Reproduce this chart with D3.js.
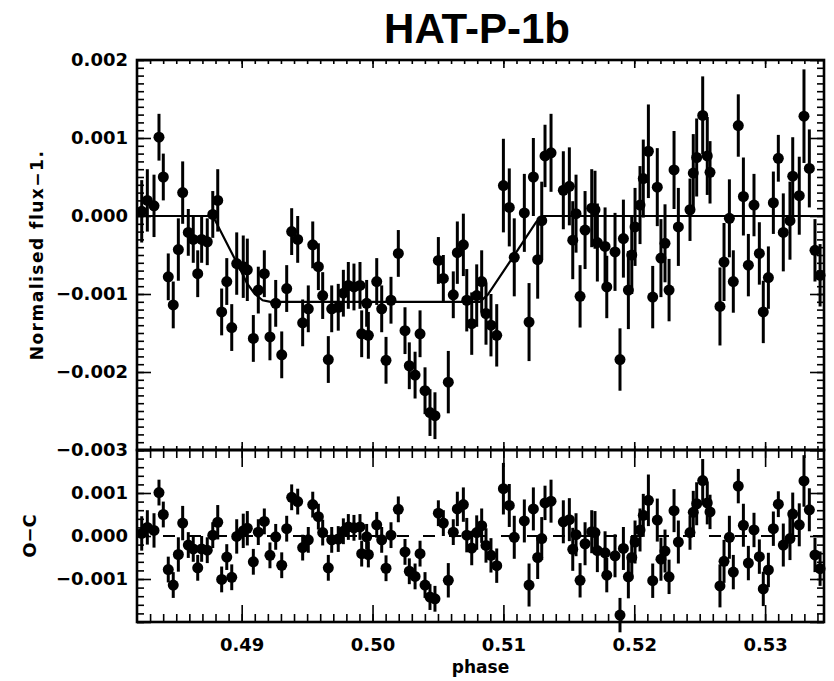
<!DOCTYPE html>
<html lang="en">
<head>
<meta charset="UTF-8">
<title>HAT-P-1b</title>
<script src="https://d3js.org/d3.v7.min.js"></script>
<style>
    body { margin: 0; background: #fff; }
    svg { display: block; font-family: "DejaVu Sans", sans-serif; font-weight: bold; }
    .tick text { font-family: "DejaVu Sans", sans-serif; font-weight: bold; font-size: 18px; fill: #000; }
    .tick line { stroke: #000; stroke-width: 1.6; }
    .frame { fill: none; stroke: #000; stroke-width: 2.6; }
</style>
</head>
<body>
<div id="chart"></div>
<script>
// orbital phase of each point
const phase = [
    0.48236,0.48279,0.48330,0.48368,0.48401,0.48439,0.48477,0.48516,0.48549,0.48592,
    0.48630,0.48664,0.48694,0.48737,0.48779,0.48817,0.48847,0.48886,0.48924,0.48962,
    0.49012,0.49043,0.49089,0.49127,0.49173,0.49216,0.49260,0.49306,0.49344,0.49382,
    0.49428,0.49466,0.49509,0.49543,0.49586,0.49619,0.49662,0.49688,0.49738,0.49777,
    0.49815,0.49858,0.49904,0.49917,0.49955,0.49968,0.50032,0.50070,0.50103,0.50141,
    0.50197,0.50248,0.50281,0.50325,0.50363,0.50401,0.50439,0.50477,0.50503,0.50541,
    0.50579,0.50617,0.50648,0.50694,0.50720,0.50758,0.50796,0.50834,0.50867,0.50905,
    0.50949,0.51000,0.51045,0.51083,0.51160,0.51196,0.51229,0.51262,0.51293,0.51318,
    0.51364,0.51458,0.51504,0.51530,0.51555,0.51586,0.51624,0.51675,0.51700,0.51718,
    0.51777,0.51790,0.51853,0.51891,0.51917,0.51955,0.51981,0.52006,0.52044,0.52069,
    0.52108,0.52141,0.52176,0.52204,0.52235,0.52266,0.52304,0.52337,0.52426,0.52451,
    0.52477,0.52523,0.52558,0.52579,0.52655,0.52686,0.52727,0.52757,0.52795,0.52834,
    0.52872,0.52915,0.52956,0.52986,0.53025,0.53063,0.53101,0.53139,0.53190,0.53211,
    0.53261,0.53297,0.53338,0.53381,0.53420
];

// normalised flux - 1
const flux = [
    0.00006,0.00020,0.00013,0.00101,0.00050,-0.00078,-0.00114,-0.00043,0.00030,-0.00021,
    -0.00030,-0.00074,-0.00030,-0.00033,0.00002,0.00020,-0.00123,-0.00084,-0.00143,-0.00061,
    -0.00065,-0.00069,-0.00157,-0.00095,-0.00074,-0.00155,-0.00112,-0.00178,-0.00093,-0.00020,
    -0.00030,-0.00137,-0.00119,-0.00037,-0.00065,-0.00102,-0.00184,-0.00119,-0.00117,-0.00099,
    -0.00089,-0.00091,-0.00089,-0.00151,-0.00112,-0.00153,-0.00084,-0.00119,-0.00185,-0.00108,
    -0.00048,-0.00147,-0.00192,-0.00204,-0.00151,-0.00224,-0.00252,-0.00256,-0.00057,-0.00080,
    -0.00213,-0.00101,-0.00047,-0.00037,-0.00108,-0.00138,-0.00102,-0.00084,-0.00125,-0.00140,
    -0.00153,0.00039,0.00011,-0.00053,0.00004,-0.00136,0.00050,-0.00056,-0.00006,0.00077,
    0.00081,0.00033,0.00038,-0.00031,0.00003,-0.00103,-0.00018,0.00010,0.00008,-0.00034,
    -0.00039,-0.00091,-0.00046,-0.00184,-0.00029,-0.00095,-0.00050,-0.00014,0.00014,0.00048,
    0.00083,-0.00104,0.00037,-0.00054,-0.00035,-0.00095,0.00059,-0.00014,0.00008,0.00055,
    0.00075,0.00129,0.00077,0.00056,-0.00116,-0.00059,-0.00003,-0.00084,0.00116,0.00025,
    -0.00063,0.00014,-0.00048,-0.00123,-0.00079,0.00017,0.00074,-0.00021,-0.00006,0.00051,
    0.00026,0.00128,0.00061,-0.00044,-0.00076
];

// 1-sigma errors
const fluxErr = [
    0.0004,0.0004,0.0004,0.0003,0.0003,0.0003,0.0003,0.0004,0.0004,0.0003,
    0.0003,0.0003,0.0003,0.0003,0.0003,0.0004,0.0003,0.0003,0.0003,0.0004,
    0.0004,0.0004,0.0003,0.0003,0.0003,0.0003,0.0003,0.0003,0.0003,0.0003,
    0.0003,0.0003,0.0003,0.0003,0.0003,0.0003,0.0003,0.0003,0.0003,0.0003,
    0.0003,0.0003,0.0003,0.0003,0.0003,0.0003,0.0003,0.0003,0.0003,0.0003,
    0.0003,0.0003,0.0003,0.0003,0.0003,0.0003,0.0003,0.0003,0.0003,0.0003,
    0.0004,0.0003,0.0004,0.0004,0.0004,0.0004,0.0004,0.0004,0.0004,0.0004,
    0.0004,0.0006,0.0005,0.0005,0.0005,0.0005,0.0005,0.0005,0.0005,0.0004,
    0.0005,0.0005,0.0005,0.0005,0.0005,0.0004,0.0005,0.0005,0.0005,0.0005,
    0.0005,0.0004,0.0005,0.0004,0.0005,0.0005,0.0005,0.0005,0.0005,0.0005,
    0.0006,0.0004,0.0005,0.0005,0.0005,0.0004,0.0005,0.0005,0.0004,0.0005,
    0.0005,0.0005,0.0005,0.0004,0.0005,0.0005,0.0005,0.0004,0.0004,0.0005,
    0.0004,0.0004,0.0004,0.0004,0.0004,0.0004,0.0003,0.0005,0.0005,0.0005,
    0.0005,0.0006,0.0005,0.0004,0.0004
];

// observed minus computed
const residual = [
    0.00006,0.00020,0.00013,0.00101,0.00050,-0.00078,-0.00114,-0.00043,0.00030,-0.00021,
    -0.00030,-0.00074,-0.00030,-0.00033,0.00002,0.00032,-0.00101,-0.00049,-0.00096,-0.00001,
    0.00012,0.00018,-0.00060,0.00009,0.00034,-0.00045,-0.00002,-0.00068,0.00017,0.00090,
    0.00080,-0.00027,-0.00009,0.00073,0.00045,0.00008,-0.00074,-0.00009,-0.00007,0.00011,
    0.00021,0.00019,0.00021,-0.00041,-0.00002,-0.00043,0.00026,-0.00009,-0.00075,0.00002,
    0.00062,-0.00037,-0.00082,-0.00094,-0.00041,-0.00114,-0.00142,-0.00146,0.00053,0.00030,
    -0.00103,0.00009,0.00063,0.00073,0.00002,-0.00028,0.00008,0.00024,-0.00022,-0.00045,
    -0.00069,0.00110,0.00071,-0.00003,0.00035,-0.00114,0.00063,-0.00050,-0.00006,0.00077,
    0.00081,0.00033,0.00038,-0.00031,0.00003,-0.00103,-0.00018,0.00010,0.00008,-0.00034,
    -0.00039,-0.00091,-0.00046,-0.00184,-0.00029,-0.00095,-0.00050,-0.00014,0.00014,0.00048,
    0.00083,-0.00104,0.00037,-0.00054,-0.00035,-0.00095,0.00059,-0.00014,0.00008,0.00055,
    0.00075,0.00129,0.00077,0.00056,-0.00116,-0.00059,-0.00003,-0.00084,0.00116,0.00025,
    -0.00063,0.00014,-0.00048,-0.00123,-0.00079,0.00017,0.00074,-0.00021,-0.00006,0.00051,
    0.00026,0.00128,0.00061,-0.00044,-0.00076
];

// transit model curve
const modelPhase = [0.4820,0.4878,0.4899,0.4904,0.4910,0.4916,0.4922,0.5082,0.5088,0.5110,0.5125,0.5130,0.5345];
const modelFlux  = [0,0,-0.00069,-0.00086,-0.00100,-0.00108,-0.00110,-0.00110,-0.00101,-0.00046,-0.00008,0,0];

// axes
const xDomain = [0.482, 0.5345];
const xTicks = [0.49, 0.50, 0.51, 0.52, 0.53];
const yTicksTop = [-0.003, -0.002, -0.001, 0.000, 0.001, 0.002];
const yTicksBottom = [-0.001, 0.000, 0.001];

const width = 834, height = 681;
const left = 137, right = 824;
const top1 = 60, bottom1 = 450, top2 = 450, bottom2 = 622;

const svg = d3.select("#chart").append("svg")
    .attr("width", width)
    .attr("height", height);

const x = d3.scaleLinear().domain(xDomain).range([left, right]);
const yTop = d3.scaleLinear().domain([-0.003, 0.002]).range([bottom1, top1]);
const yBot = d3.scaleLinear().domain([-0.002, 0.002]).range([bottom2, top2]);

const xMinor = d3.range(0.483, 0.5345, 0.001).map(v => +v.toFixed(3));
const fmt = d3.format(".3f");

function addAxis(axis, tx, ty) {
    const g = svg.append("g").attr("transform", `translate(${tx},${ty})`).call(axis);
    g.select(".domain").remove();
    g.attr("font-family", null).attr("font-size", null);
    return g;
}

// IDL style ticks: inward on all four sides
function drawFrame(y, top, bottom, yMajor, yMinor, yLabels, xLen, xLabels) {
    addAxis(d3.axisBottom(x).tickValues(xMinor).tickSize(-xLen[1]).tickFormat(""), 0, bottom);
    addAxis(d3.axisTop(x).tickValues(xMinor).tickSize(-xLen[1]).tickFormat(""), 0, top);
    addAxis(d3.axisBottom(x).tickValues(xTicks).tickSize(-xLen[0]).tickPadding(16)
        .tickFormat(xLabels ? d3.format(".2f") : ""), 0, bottom);
    addAxis(d3.axisTop(x).tickValues(xTicks).tickSize(-xLen[0]).tickFormat(""), 0, top);

    addAxis(d3.axisLeft(y).tickValues(yMinor).tickSize(-7).tickFormat(""), left, 0);
    addAxis(d3.axisRight(y).tickValues(yMinor).tickSize(-7).tickFormat(""), right, 0);
    addAxis(d3.axisLeft(y).tickValues(yMajor).tickSize(-14).tickPadding(9)
        .tickFormat(d => yLabels.includes(d) ? fmt(d) : ""), left, 0);
    addAxis(d3.axisRight(y).tickValues(yMajor).tickSize(-14).tickFormat(""), right, 0);

    svg.append("rect").attr("class", "frame")
        .attr("x", left).attr("y", top)
        .attr("width", right - left).attr("height", bottom - top);
}

const minorTop = d3.range(-30, 21).map(v => v / 10000);
const minorBot = d3.range(-10, 11).map(v => v / 5000);

drawFrame(yTop, top1, bottom1, yTicksTop, minorTop, yTicksTop, [8, 4], false);
drawFrame(yBot, top2, bottom2, [-0.002, -0.001, 0, 0.001, 0.002], minorBot, yTicksBottom, [17, 8], true);

const pts = phase.map((p, i) => ({p: p, f: flux[i], e: fluxErr[i], r: residual[i]}));

// model curve
const line = d3.line().x((d, i) => x(modelPhase[i])).y(d => yTop(d));
svg.append("path")
    .attr("d", line(modelFlux))
    .attr("fill", "none")
    .attr("stroke", "#000")
    .attr("stroke-width", 2.2);

// zero line in O-C panel
svg.append("line")
    .attr("x1", left).attr("x2", right)
    .attr("y1", yBot(0)).attr("y2", yBot(0))
    .attr("stroke", "#000")
    .attr("stroke-width", 2)
    .attr("stroke-dasharray", "12,14");

function drawPoints(y, key) {
    const g = svg.append("g");
    g.selectAll("line.err").data(pts).enter().append("line")
        .attr("class", "err")
        .attr("x1", d => x(d.p)).attr("x2", d => x(d.p))
        .attr("y1", d => y(d[key] - d.e)).attr("y2", d => y(d[key] + d.e))
        .attr("stroke", "#000")
        .attr("stroke-width", 3);
    g.selectAll("circle").data(pts).enter().append("circle")
        .attr("cx", d => x(d.p)).attr("cy", d => y(d[key]))
        .attr("r", 5.5)
        .attr("fill", "#000");
}
drawPoints(yTop, "f");
drawPoints(yBot, "r");

// titles
svg.append("text")
    .attr("x", 477).attr("y", 43)
    .attr("text-anchor", "middle")
    .style("font-family", "'Liberation Sans', Arial, sans-serif")
    .style("font-size", "42px")
    .text("HAT-P-1b");

svg.append("text")
    .attr("transform", `translate(43,${(top1 + bottom1) / 2}) rotate(-90)`)
    .attr("text-anchor", "middle")
    .style("font-size", "17px")
    .style("letter-spacing", "1.5px")
    .text("Normalised flux\u22121.");

svg.append("text")
    .attr("transform", `translate(36,${(top2 + bottom2) / 2}) rotate(-90)`)
    .attr("text-anchor", "middle")
    .style("font-size", "18px")
    .text("O\u2212C");

svg.append("text")
    .attr("x", (left + right) / 2).attr("y", 673)
    .attr("text-anchor", "middle")
    .style("font-size", "17px")
    .text("phase");
</script>
</body>
</html>
